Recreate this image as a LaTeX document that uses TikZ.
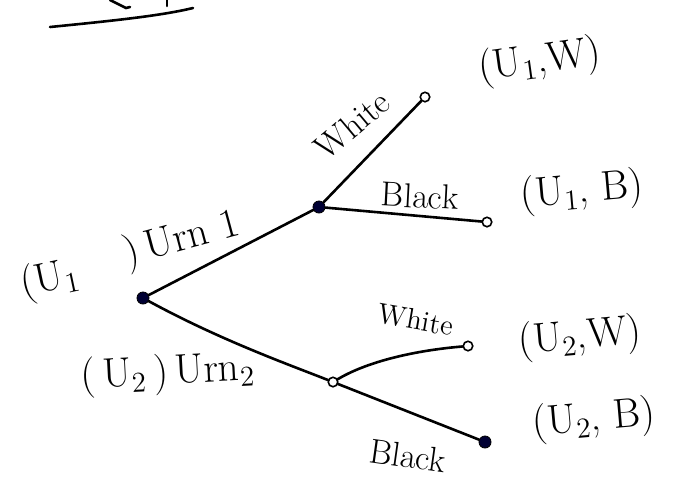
\documentclass[tikz,border=0pt]{standalone}
\usepackage{amsmath}

\begin{document}
\begin{tikzpicture}[
	x=0.5pt, y=-0.5pt,
	dot/.style={circle, draw=black, fill=black!80!blue, minimum size=1.4ex, inner sep=0pt},
	leaf/.style={circle, draw=black, fill=white, thick, minimum size=1.1ex, inner sep=0pt},
	branch/.style={line width=1.3pt, line cap=round},
	outcome/.style={font=\huge},
	choice/.style={font=\LARGE},
	urn/.style={font=\huge},
]
	\useasboundingbox (0,0) rectangle (679,479);

	% Heading, cut off at the top edge
	\draw[branch] (50,27) .. controls (110,21) and (160,16) .. (193,8);
	\draw[branch] (110,0) -- (126,8) -- (130,7);
	\draw[branch] (167,0) -- (167,6);

	% Tree nodes
	\node[dot] (root) at (143,298) {};
	\node[dot] (urnA) at (319,207) {};
	\node[leaf] (urnB) at (333,382) {};
	\node[leaf] (aW) at (425,97) {};
	\node[leaf] (aB) at (487,222) {};
	\node[leaf] (bW) at (468,346) {};
	\node[dot] (bB) at (485,442) {};

	% Branches
	\draw[branch] (root) -- (urnA);
	\draw[branch] (root) .. controls (220,340) and (290,365) .. (urnB);
	\draw[branch] (urnA) -- (aW);
	\draw[branch] (urnA) -- (aB);
	\draw[branch] (urnB) .. controls (370,360) and (420,350) .. (bW);
	\draw[branch] (urnB) -- (bB);

	% Branch labels
	\node[choice, rotate=40] (lblAW) at (352,125) {White};
	\node[choice, rotate=-3] (lblAB) at (420,196) {Black};
	\node[choice, rotate=-10, font=\Large] (lblBW) at (416,320) {White};
	\node[choice, rotate=-8] (lblBB) at (408,456) {Black};

	% Urn labels
	\node[urn, rotate=12] (lblU1) at (50,280) {(U$_1$};
	\node[urn, rotate=15] (lblUrn1) at (182,240) {)\,Urn 1};
	\node[urn, rotate=3] (lblUrn2) at (168,374) {(\,U$_2$\,)\,Urn$_2$};

	% Outcomes
	\node[outcome, rotate=8] (outAW) at (540,62) {(U$_1$,W)};
	\node[outcome, rotate=5] (outAB) at (582,192) {(U$_1$, B)};
	\node[outcome, rotate=5] (outBW) at (580,338) {(U$_2$,W)};
	\node[outcome, rotate=5] (outBB) at (594,420) {(U$_2$, B)};
\end{tikzpicture}
\end{document}
